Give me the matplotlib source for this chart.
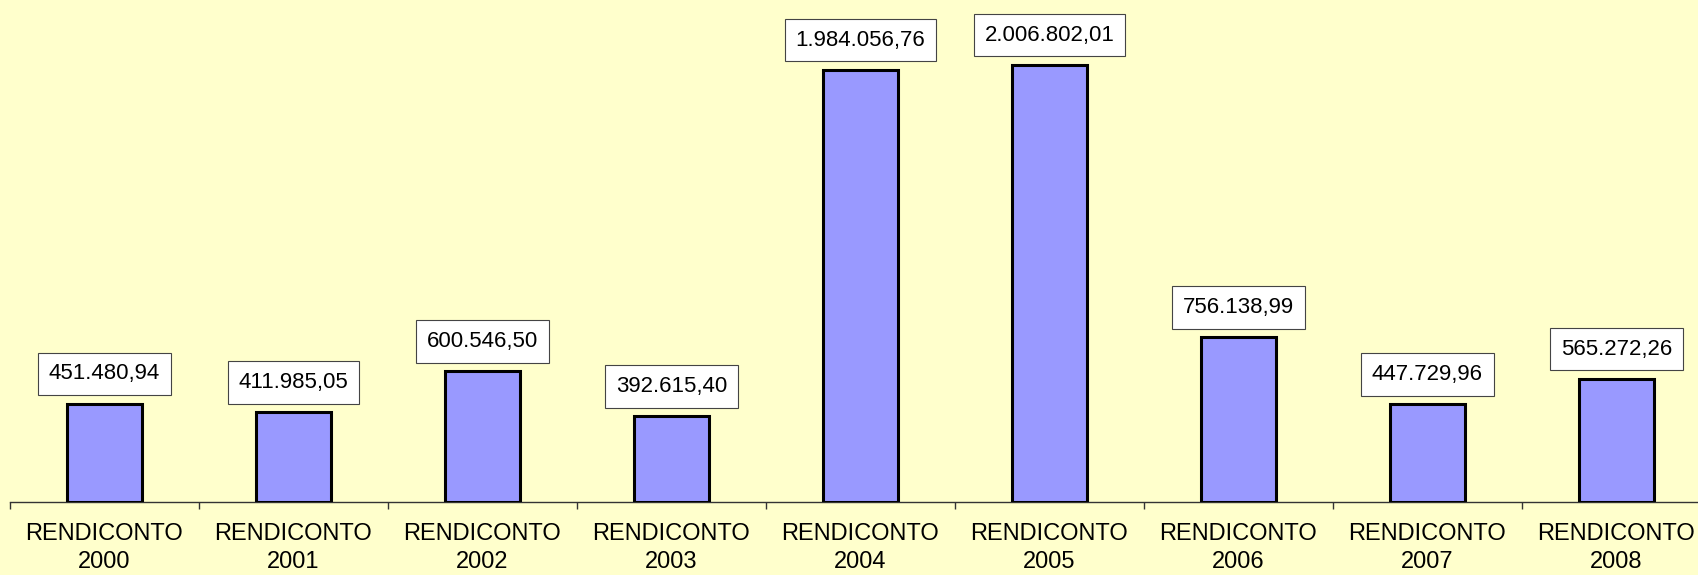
import matplotlib
matplotlib.use("Agg")
import matplotlib.pyplot as plt
import numpy as np

categories = ["RENDICONTO\n2000", "RENDICONTO\n2001", "RENDICONTO\n2002",
              "RENDICONTO\n2003", "RENDICONTO\n2004", "RENDICONTO\n2005",
              "RENDICONTO\n2006", "RENDICONTO\n2007", "RENDICONTO\n2008"]
values = [451480.94, 411985.05, 600546.50, 392615.40, 1984056.76,
          2006802.01, 756138.99, 447729.96, 565272.26]
value_labels = ["451.480,94", "411.985,05", "600.546,50", "392.615,40",
                "1.984.056,76", "2.006.802,01", "756.138,99", "447.729,96",
                "565.272,26"]

plt.rcParams['font.family'] = ['Liberation Sans', 'DejaVu Sans']

W, H = 1699, 575
fig = plt.figure(figsize=(W / 100, H / 100), dpi=100)
bg = "#FFFFCC"
fig.patch.set_facecolor(bg)

left_px, bottom_px = 10, H - 502
ax = fig.add_axes([left_px / W, bottom_px / H, 1701 / W, (H - bottom_px) / H])
ax.set_facecolor(bg)

x = np.arange(len(categories))
ax.bar(x, values, width=0.4, color="#9999FF", edgecolor="black", linewidth=2.2, zorder=3)

ax.set_xlim(-0.5, len(categories) - 0.5)
ax.set_ylim(0, 2.305e6)

for xi, v, lab in zip(x, values, value_labels):
    ax.annotate(lab, xy=(xi, v), xytext=(0, 21.5), textcoords="offset points",
                ha="center", va="center", fontsize=16, color="black",
                bbox=dict(boxstyle="square,pad=0.48", facecolor="white",
                          edgecolor="#444444", linewidth=0.8),
                zorder=4)

for s in ["top", "right", "left"]:
    ax.spines[s].set_visible(False)
ax.spines["bottom"].set_color("#333333")
ax.spines["bottom"].set_linewidth(1.0)
ax.set_yticks([])

ax.set_xticks(x)
ax.set_xticklabels(categories, fontsize=17, linespacing=1.38)
ax.tick_params(axis="x", which="major", length=0, pad=15)
ax.set_xticks(np.arange(-0.5, len(categories) + 0.5, 1), minor=True)
ax.tick_params(axis="x", which="minor", length=5, width=1, color="#333333", direction="out")

fig.savefig("out.png", dpi=100, facecolor=bg)
